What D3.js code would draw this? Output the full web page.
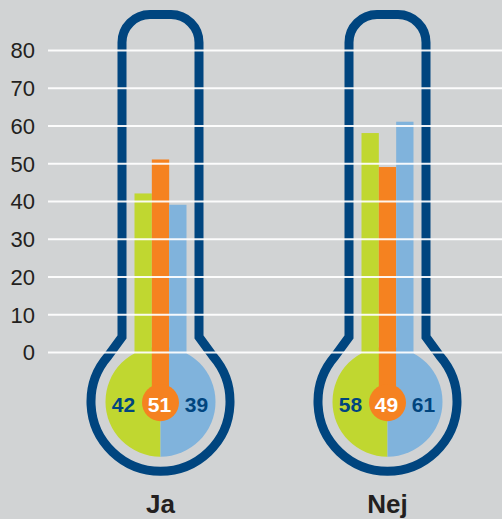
<!DOCTYPE html>
<html><head><meta charset="utf-8">
<script src="https://cdn.jsdelivr.net/npm/d3@7"></script>
<style>
html,body{margin:0;padding:0;background:#d1d3d4;}
svg{display:block;font-family:"Liberation Sans",Arial,Helvetica,sans-serif;}
</style></head>
<body><svg id="c" width="502" height="519"></svg>
<script>
const categories = ["Ja", "Nej"];
const seriesNames = ["grön", "orange", "blå"];
const valuesGreen = [42, 58];
const valuesOrange = [51, 49];
const valuesBlue = [39, 61];
const yTicks = [0, 10, 20, 30, 40, 50, 60, 70, 80];

const W = 502, H = 519;
const colors = {green: "#c0d730", orange: "#f58220", blue: "#80b3dc", dark: "#00457f", bg: "#d1d3d4", text: "#231f20"};
const svg = d3.select("#c");
svg.append("rect").attr("width", W).attr("height", H).attr("fill", colors.bg);

const gridLeft = 48;
const x = d3.scaleBand().domain(categories).range([47, 501]).padding(0);
const y = d3.scaleLinear().domain([0, 80]).range([352, 50]);
const xs = d3.scaleBand().domain(seriesNames).range([-26, 26]).padding(0);

const data = categories.map((c, i) => ({cat: c, vals: [valuesGreen[i], valuesOrange[i], valuesBlue[i]]}));
const seriesColors = [colors.green, colors.orange, colors.blue];

const bulbCy = 401.7, ringR = 69.5, colorR = 55, orangeR = 18.5;
const tubeHalf = 38.5, tubeTop = 14.5, cornerR = 28, shoulderY = 337, joinY = 356;

function outline(cx) {
  const dy = joinY - bulbCy;
  const dx = Math.sqrt(ringR * ringR - dy * dy);
  return `M${cx - tubeHalf},${shoulderY} L${cx - tubeHalf},${tubeTop + cornerR}
    A${cornerR},${cornerR} 0 0 1 ${cx - tubeHalf + cornerR},${tubeTop}
    L${cx + tubeHalf - cornerR},${tubeTop}
    A${cornerR},${cornerR} 0 0 1 ${cx + tubeHalf},${tubeTop + cornerR}
    L${cx + tubeHalf},${shoulderY} L${cx + dx},${joinY}
    A${ringR},${ringR} 0 1 1 ${cx - dx},${joinY} Z`;
}

const g = svg.selectAll("g.therm").data(data).join("g").attr("class", "therm")
  .attr("transform", d => `translate(${x(d.cat) + x.bandwidth() / 2},0)`);

g.append("path").attr("d", outline(0)).attr("fill", colors.bg)
  .attr("stroke", colors.dark).attr("stroke-width", 9).attr("stroke-linejoin", "miter");

// bulb halves
const arc = d3.arc().innerRadius(0).outerRadius(colorR);
g.append("path").attr("transform", `translate(0,${bulbCy})`)
  .attr("d", arc({startAngle: Math.PI, endAngle: 2 * Math.PI})).attr("fill", colors.green);
g.append("path").attr("transform", `translate(0,${bulbCy})`)
  .attr("d", arc({startAngle: 0, endAngle: Math.PI})).attr("fill", colors.blue);

// bars
g.selectAll("rect.bar").data(d => d.vals.map((v, i) => ({v, s: seriesNames[i], c: seriesColors[i]})))
  .join("rect").attr("class", "bar")
  .attr("x", d => xs(d.s)).attr("width", xs.bandwidth())
  .attr("y", d => y(d.v)).attr("height", d => bulbCy - y(d.v))
  .attr("fill", d => d.c);

g.append("circle").attr("cx", 0).attr("cy", bulbCy + 1).attr("r", orangeR).attr("fill", colors.orange);

// bulb numbers
const numOff = [-37, -1, 36];
g.selectAll("text.num").data(d => d.vals.map((v, i) => ({v, i})))
  .join("text").attr("class", "num")
  .attr("x", d => numOff[d.i]).attr("y", bulbCy + 10)
  .attr("text-anchor", "middle").attr("font-size", 21).attr("font-weight", "bold")
  .attr("fill", d => d.i === 1 ? "#ffffff" : colors.dark)
  .text(d => d.v);

// category labels
g.append("text").attr("x", 0).attr("y", 513).attr("text-anchor", "middle")
  .attr("font-size", 26).attr("font-weight", "bold").attr("fill", colors.text)
  .text(d => d.cat);

// grid + y axis on top
const axis = d3.axisLeft(y).tickValues(yTicks).tickSize(-(W - gridLeft)).tickPadding(13);
const ax = svg.append("g").attr("transform", `translate(${gridLeft},0)`).call(axis);
ax.select(".domain").remove();
ax.selectAll(".tick line").attr("stroke", "#ffffff").attr("stroke-width", 1.8).attr("opacity", 0.92);
ax.selectAll(".tick text").attr("fill", colors.text).attr("font-size", 22)
  .attr("font-family", "'Liberation Sans',Arial,sans-serif").attr("dy", "0.36em");
</script></body></html>
